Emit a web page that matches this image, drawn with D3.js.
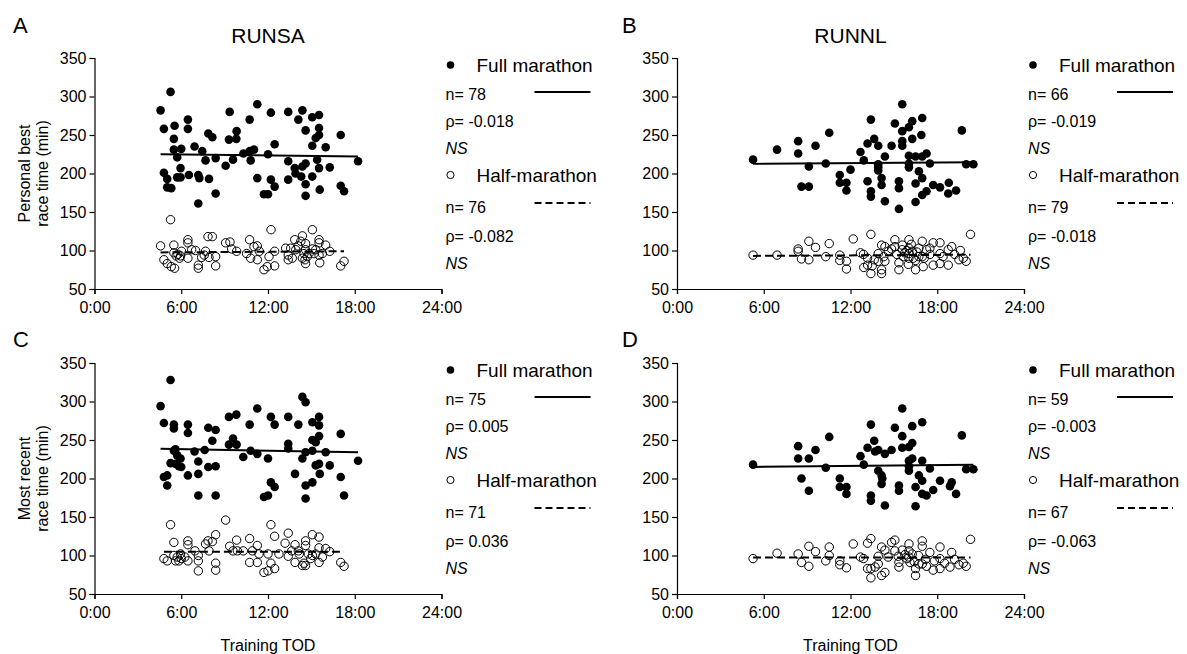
<!DOCTYPE html>
<html>
<head>
<meta charset="utf-8">
<script src="https://d3js.org/d3.v7.min.js"></script>
<style>
  body { margin: 0; background: #fff; }
  svg { font-family: "Liberation Sans", Arial, sans-serif; }
  .axis text { font-size: 16px; fill: #000; }
  .axis path, .axis line { stroke: #000; stroke-width: 1.2px; }
</style>
</head>
<body>
<svg id="chart" width="1187" height="654"></svg>
<script>
// [training hour of day, race time in minutes]
var aFull = [[4.57,282],[5.26,306],[4.8,258],[5.54,262],[5.49,245],[4.8,201],[5.03,193],[5.03,182],[5.31,181],
  [5.49,231],[5.72,221],[6.0,232],[5.95,207],[5.72,195],[5.95,195],[6.46,270],[6.46,258],[6.53,198],[6.92,235],
  [7.18,198],[7.25,194],[7.45,229],[7.18,161],[7.68,217],[7.87,252],[8.15,247],[7.92,193],[8.38,220],[8.38,174],
  [9.07,210],[9.3,244],[9.35,280],[9.58,218],[9.83,255],[9.81,245],[10.3,226],[10.73,270],[10.8,217],[10.73,229],
  [11.03,231],[11.26,290],[11.26,194],[11.72,173],[12.0,173],[12.0,225],[12.2,279],[12.2,192],[12.46,238],
  [12.46,183],[13.4,280],[13.4,216],[13.4,192],[13.85,207],[13.9,200],[14.1,270],[14.38,282],[14.3,196],
  [14.6,213],[14.6,186],[14.6,171],[14.6,256],[14.38,209],[15.06,273],[15.06,236],[15.06,196],[15.3,246],
  [15.53,276],[15.53,259],[15.53,250],[15.4,218],[15.53,207],[15.58,179],[15.99,234],[16.27,208],[17.03,250],
  [17.03,184],[17.26,177],[18.23,216]];
var aHalf = [[4.57,106],[5.26,140],[4.8,88],[5.03,83],[5.31,79],[5.54,77],[5.49,107],[5.49,97],[5.77,95],
  [5.88,90],[6.02,99],[6.46,114],[6.46,110],[6.46,90],[6.99,100],[7.18,81],[7.18,77],[7.41,91],[7.68,99],
  [7.85,118],[8.15,118],[7.92,91],[8.38,92],[8.38,80],[9.07,110],[9.37,111],[9.49,102],[9.83,99],[10.73,114],
  [10.8,90],[11.03,105],[11.26,106],[11.26,88],[11.72,75],[11.95,79],[12.07,92],[12.21,127],[12.46,99],
  [12.46,80],[13.22,103],[13.4,94],[13.4,88],[13.85,114],[13.92,101],[14.08,106],[14.38,119],[14.38,90],
  [14.56,88],[14.6,83],[14.6,109],[14.6,101],[14.72,92],[15.07,127],[15.07,102],[15.19,96],[15.53,114],
  [15.53,110],[15.53,94],[15.58,84],[15.3,101],[15.99,107],[16.27,99],[17.03,80],[17.26,86],[5.65,93],
  [5.95,93],[6.72,101],[7.59,94],[10.52,96],[11.4,99],[13.68,90],[14.84,96],[14.49,96],[15.76,96],
  [14.27,112],[13.57,103]];
var bFull = [[5.26,218],[6.92,231],[8.38,242],[8.38,226],[8.61,183],[9.12,183],[9.12,209],[9.58,236],
  [10.53,253],[10.29,213],[11.26,198],[11.26,188],[11.72,188],[11.72,178],[12.69,228],[12.92,217],[13.18,190],
  [13.41,270],[13.18,239],[13.64,245],[13.92,236],[13.92,208],[13.92,204],[13.41,177],[13.41,170],[14.15,194],
  [14.15,185],[14.38,222],[14.38,164],[14.84,236],[15.07,265],[15.35,190],[15.35,181],[15.35,154],[15.58,290],
  [15.58,255],[15.58,242],[15.58,236],[16.04,260],[16.27,268],[16.27,245],[16.04,223],[16.04,213],[16.04,208],
  [16.5,222],[16.5,187],[16.5,163],[16.73,203],[16.96,272],[16.96,194],[16.96,172],[17.26,226],[17.49,213],
  [17.26,177],[17.72,185],[18.19,182],[18.76,174],[16.96,222],[19.3,178],[19.7,256],[20.0,212],[20.5,212],
  [18.8,188],[13.92,212],[12.0,205],[16.9,250]];
var bHalf = [[5.26,94],[6.92,94],[8.38,102],[8.38,99],[8.61,89],[9.12,112],[9.12,88],[9.58,104],[10.53,109],
  [10.29,92],[11.26,94],[11.26,87],[11.72,86],[11.72,76],[12.19,115],[12.69,97],[12.92,78],[13.18,81],
  [13.41,121],[13.41,70],[13.18,90],[13.64,88],[13.92,96],[13.92,86],[14.15,107],[14.15,75],[14.38,105],
  [14.38,86],[14.15,70],[14.84,102],[15.07,114],[15.07,105],[15.35,84],[15.35,75],[15.58,107],[15.58,101],
  [15.76,97],[16.04,114],[16.04,103],[16.04,96],[16.04,90],[16.27,99],[16.5,87],[16.5,75],[16.73,103],
  [16.73,92],[16.96,112],[16.96,92],[17.03,79],[17.26,101],[17.49,103],[17.72,110],[17.72,81],[18.19,110],
  [18.19,96],[18.19,83],[18.76,101],[18.76,81],[16.34,90],[15.65,92],[14.61,99],[19.2,95],[19.5,88],
  [19.8,90],[20.3,121],[19.0,105],[19.6,100],[20.0,86],[16.2,108],[15.9,100],[16.6,98],[17.1,90],[13.5,80],
  [14.3,92],[15.2,95],[16.0,82],[17.5,95],[18.4,92],[12.9,95]];
var cFull = [[4.57,294],[5.26,328],[4.8,272],[5.49,270],[5.49,265],[4.8,202],[5.03,204],[5.03,191],[5.49,236],
  [5.26,220],[5.72,230],[5.95,226],[5.84,216],[6.0,215],[5.61,219],[6.46,270],[6.46,259],[6.46,204],[6.92,235],
  [7.18,222],[7.18,206],[7.18,178],[7.62,237],[7.87,266],[8.15,249],[8.38,263],[7.87,215],[8.38,216],
  [8.38,178],[9.3,280],[9.81,283],[9.58,252],[9.3,244],[9.83,244],[10.29,228],[10.73,270],[10.8,236],
  [11.26,232],[11.26,291],[11.72,176],[12.0,178],[12.0,226],[12.2,280],[12.46,270],[12.2,195],[12.46,189],
  [13.4,280],[13.4,245],[13.4,239],[13.87,206],[14.1,270],[14.38,306],[14.6,299],[14.38,226],[14.6,234],
  [14.6,191],[14.6,174],[15.07,195],[15.07,273],[15.07,250],[15.3,247],[15.53,280],[15.53,269],[15.53,255],
  [15.07,236],[15.53,219],[15.3,217],[15.58,206],[15.99,234],[16.27,217],[17.03,258],[17.03,202],[17.26,178],
  [18.23,223],[5.6,238]];
var cHalf = [[4.8,96],[5.03,93],[5.26,140],[5.49,117],[5.49,100],[5.72,98],[5.95,102],[5.84,93],[6.46,119],
  [6.46,114],[6.46,93],[6.95,106],[7.18,93],[7.18,80],[7.18,100],[7.85,119],[8.15,118],[8.38,127],[8.38,90],
  [8.38,81],[7.92,106],[9.07,146],[9.35,112],[9.83,120],[9.58,106],[9.88,106],[10.29,106],[10.73,122],
  [10.73,91],[11.26,113],[11.26,91],[10.92,106],[11.72,78],[12.0,80],[12.2,140],[12.46,125],[12.0,102],
  [12.2,90],[12.46,83],[13.4,129],[13.18,116],[13.4,99],[13.64,106],[13.87,114],[13.87,91],[14.1,106],
  [14.38,87],[14.6,87],[14.6,119],[14.6,113],[14.79,102],[15.07,127],[15.07,100],[15.53,124],[15.53,110],
  [15.53,91],[15.3,102],[15.99,109],[16.27,105],[17.03,91],[17.26,86],[14.95,96],[14.49,90],[14.16,102],
  [7.68,115],[11.38,102],[6.0,96],[6.25,98],[5.61,93],[15.76,98],[12.76,102]];
var dFull = [[5.26,218],[8.38,242],[8.38,226],[8.61,200],[9.12,226],[9.12,184],[9.58,237],[10.53,254],
  [10.29,214],[11.26,200],[11.26,189],[11.72,189],[11.72,180],[12.69,229],[12.92,218],[13.18,240],[13.41,270],
  [13.64,249],[13.92,237],[13.92,210],[14.15,204],[14.15,193],[13.41,178],[13.41,171],[14.38,232],[14.38,165],
  [14.84,237],[15.07,266],[15.35,191],[15.35,184],[15.58,291],[15.58,255],[15.58,240],[16.04,241],[16.27,246],
  [16.27,268],[16.04,223],[16.04,216],[16.04,210],[16.5,189],[16.5,164],[16.73,204],[16.96,273],[16.96,197],
  [16.96,180],[16.96,223],[17.26,178],[17.49,213],[17.72,185],[18.19,197],[18.88,190],[16.27,226],[19.7,256],
  [20.0,212],[20.5,212],[19.3,180],[14.2,200],[13.7,235],[19.0,195]];
var dHalf = [[5.26,96],[6.92,103],[8.38,102],[8.61,91],[9.12,112],[9.12,86],[9.58,105],[10.29,93],[10.53,111],
  [10.53,100],[11.26,93],[11.26,88],[11.72,84],[12.19,115],[12.69,98],[13.18,116],[13.18,83],[13.41,122],
  [13.41,71],[13.41,83],[13.92,99],[13.92,89],[14.15,111],[14.15,74],[14.38,107],[14.38,78],[14.84,117],
  [15.07,120],[15.07,106],[15.35,91],[15.35,85],[15.58,107],[15.76,101],[16.04,115],[16.04,106],[16.04,98],
  [16.27,102],[16.5,83],[16.5,74],[16.73,89],[16.96,119],[16.96,112],[16.96,89],[17.26,86],[17.49,104],
  [17.72,81],[18.19,111],[18.19,96],[18.19,83],[18.88,85],[16.11,91],[19.2,95],[19.5,88],[20.3,121],
  [19.8,90],[19.0,104],[20.0,86],[15.9,96],[16.4,92],[14.6,98],[17.2,95],[12.9,96],[15.3,99],[13.7,85],
  [16.7,100],[17.8,93],[18.5,90]];

// fitted lines: [start hour, time], [end hour, time]
var aFullFit = [[4.57,225],[18.23,222]];
var aHalfFit = [[4.57,97.5],[17.26,99]];
var bFullFit = [[5.26,212.5],[20.5,214.5]];
var bHalfFit = [[5.26,93],[20.3,94.5]];
var cFullFit = [[4.57,238.5],[18.23,234]];
var cHalfFit = [[4.8,105],[17.26,105]];
var dFullFit = [[5.26,215],[20.5,218]];
var dHalfFit = [[5.26,97.5],[20.3,97.5]];

var xTicks = [0, 6, 12, 18, 24];
var yTicks = [50, 100, 150, 200, 250, 300, 350];
var panelLetters = ["A", "B", "C", "D"];
var cohortNames = ["RUNSA", "RUNNL"];
var yTitles = [["Personal best", "race time (min)"], ["Most recent", "race time (min)"]];
var fullN = [78, 66, 75, 59];
var fullRho = ["-0.018", "-0.019", "0.005", "-0.003"];
var halfN = [76, 79, 71, 67];
var halfRho = ["-0.082", "-0.018", "0.036", "-0.063"];

var svg = d3.select("#chart");
var W = 347, H = 231;

var panels = [
  {full: aFull, half: aHalf, fullFit: aFullFit, halfFit: aHalfFit, x0: 94.5, y0: 58, col: 0, row: 0},
  {full: bFull, half: bHalf, fullFit: bFullFit, halfFit: bHalfFit, x0: 677, y0: 58, col: 1, row: 0},
  {full: cFull, half: cHalf, fullFit: cFullFit, halfFit: cHalfFit, x0: 94.5, y0: 363, col: 0, row: 1},
  {full: dFull, half: dHalf, fullFit: dFullFit, halfFit: dHalfFit, x0: 677, y0: 363, col: 1, row: 1}
];

panels.forEach(function(p, i) {
  var x = d3.scaleLinear().domain([0, 24]).range([p.x0, p.x0 + W]);
  var y = d3.scaleLinear().domain([50, 350]).range([p.y0 + H, p.y0]);

  svg.append("g").attr("class", "axis")
    .attr("transform", "translate(0," + (p.y0 + H) + ")")
    .call(d3.axisBottom(x).tickValues(xTicks).tickSize(5).tickSizeOuter(5).tickPadding(8)
      .tickFormat(function(d) { return d + ":00"; }));

  svg.append("g").attr("class", "axis")
    .attr("transform", "translate(" + p.x0 + ",0)")
    .call(d3.axisLeft(y).tickValues(yTicks).tickSize(5).tickSizeOuter(5).tickPadding(3));

  var line = d3.line().x(function(d) { return x(d[0]); }).y(function(d) { return y(d[1]); });

  svg.append("g").selectAll("circle").data(p.half).enter().append("circle")
    .attr("cx", function(d) { return x(d[0]); })
    .attr("cy", function(d) { return y(d[1]); })
    .attr("r", 4.2)
    .attr("fill", "none").attr("stroke", "#000").attr("stroke-width", 1);

  svg.append("g").selectAll("circle").data(p.full).enter().append("circle")
    .attr("cx", function(d) { return x(d[0]); })
    .attr("cy", function(d) { return y(d[1]); })
    .attr("r", 4.3)
    .attr("fill", "#000");

  svg.append("path").attr("d", line(p.fullFit))
    .attr("stroke", "#000").attr("stroke-width", 2).attr("fill", "none");
  svg.append("path").attr("d", line(p.halfFit))
    .attr("stroke", "#000").attr("stroke-width", 2).attr("fill", "none")
    .attr("stroke-dasharray", "8,4");

  // panel letter and cohort title
  svg.append("text").attr("x", p.col ? 622 : 13).attr("y", p.row ? 347 : 33)
    .style("font-size", "22px").text(panelLetters[i]);
  if (p.row === 0) {
    svg.append("text").attr("x", p.x0 + W / 2).attr("y", 43)
      .attr("text-anchor", "middle").style("font-size", "21px").text(cohortNames[p.col]);
  }
  if (p.row === 1) {
    svg.append("text").attr("x", p.x0 + W / 2).attr("y", 651)
      .attr("text-anchor", "middle").style("font-size", "16px").text("Training TOD");
  }
  if (p.col === 0) {
    var t = svg.append("text").style("font-size", "16px").attr("text-anchor", "middle")
      .attr("transform", "translate(30," + (p.y0 + H / 2) + ") rotate(-90)");
    t.append("tspan").attr("x", 0).attr("y", 0).text(yTitles[p.row][0]);
    t.append("tspan").attr("x", 0).attr("y", 18).text(yTitles[p.row][1]);
  }

  // legend block
  var lx = p.x0, ly = p.y0;
  svg.append("circle").attr("cx", lx + 356).attr("cy", ly + 7).attr("r", 3.8).attr("fill", "#000");
  svg.append("text").attr("x", lx + 382).attr("y", ly + 14).style("font-size", "19px").text("Full marathon");
  svg.append("text").attr("x", lx + 351).attr("y", ly + 42).style("font-size", "16px").text("n= " + fullN[i]);
  svg.append("line").attr("x1", lx + 440).attr("x2", lx + 496).attr("y1", ly + 34).attr("y2", ly + 34)
    .attr("stroke", "#000").attr("stroke-width", 2);
  svg.append("text").attr("x", lx + 351).attr("y", ly + 69).style("font-size", "16px").text("\u03c1= " + fullRho[i]);
  svg.append("text").attr("x", lx + 351).attr("y", ly + 96).style("font-size", "16px")
    .style("font-style", "italic").text("NS");
  svg.append("circle").attr("cx", lx + 356).attr("cy", ly + 117).attr("r", 3.6)
    .attr("fill", "none").attr("stroke", "#000").attr("stroke-width", 1);
  svg.append("text").attr("x", lx + 382).attr("y", ly + 124).style("font-size", "19px").text("Half-marathon");
  svg.append("text").attr("x", lx + 351).attr("y", ly + 155).style("font-size", "16px").text("n= " + halfN[i]);
  svg.append("line").attr("x1", lx + 440).attr("x2", lx + 496).attr("y1", ly + 145).attr("y2", ly + 145)
    .attr("stroke", "#000").attr("stroke-width", 2).attr("stroke-dasharray", "7,4");
  svg.append("text").attr("x", lx + 351).attr("y", ly + 184).style("font-size", "16px").text("\u03c1= " + halfRho[i]);
  svg.append("text").attr("x", lx + 351).attr("y", ly + 211).style("font-size", "16px")
    .style("font-style", "italic").text("NS");
});
</script>
</body>
</html>
